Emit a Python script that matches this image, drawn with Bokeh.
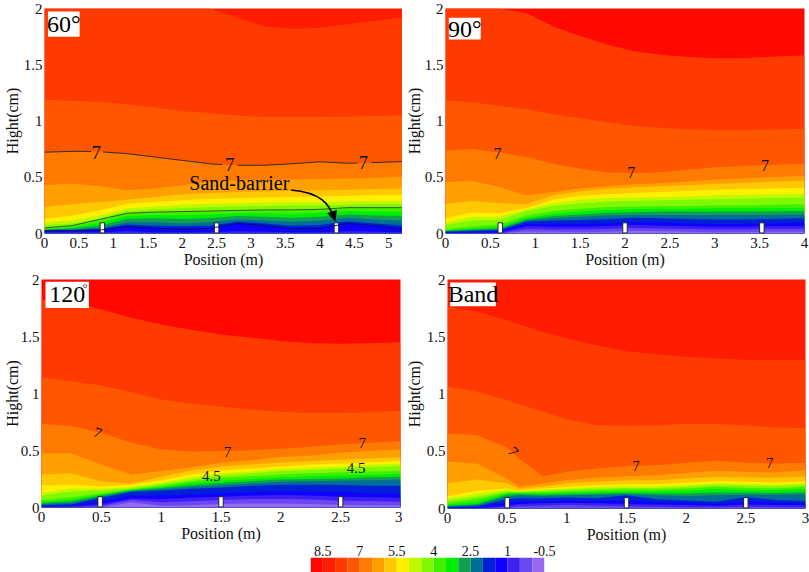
from bokeh.plotting import figure
from bokeh.layouts import column, row
from bokeh.models import Range1d, FixedTicker, Arrow, NormalHead
from bokeh.core.properties import value
from bokeh.embed import file_html
from bokeh.resources import INLINE

nan = float("nan")
FONT = "Liberation Serif"

# colour legend (one cell per 0.5 step)
LEVEL_TOP = [9, 8.5, 8, 7.5, 7, 6.5, 6, 5.5, 5, 4.5, 4, 3.5, 3, 2.5, 2, 1.5, 1, 0.5, 0]
LEVEL_BOTTOM = [8.5, 8, 7.5, 7, 6.5, 6, 5.5, 5, 4.5, 4, 3.5, 3, 2.5, 2, 1.5, 1, 0.5, 0, -0.5]
LEVEL_COLORS = ["#ff0800", "#ff1c00", "#ff3a00", "#ff5600", "#ff7a00", "#ffa000", "#ffc800", "#fff000",
                "#c0f800", "#80f800", "#40f000", "#00ee00", "#10a050", "#006e96", "#0020d8", "#1000ff",
                "#4020f0", "#6848f0", "#9868f0"]
LEGEND_TICKS = [8.5, 7, 5.5, 4, 2.5, 1, -0.5]

# --- 60 degrees
a_x = [0, .4, .8, 1.2, 1.6, 2, 2.4, 2.8, 3.2, 3.6, 4, 4.4, 4.8, 5.2]
a01 = [2, 2, 2, 2, 2, 2, 2, 1.92, 1.84, 1.82, 1.83, 1.86, 1.89, 1.92]
a02 = [1.19, 1.18, 1.17, 1.15, 1.12, 1.09, 1.07, 1.05, 1.035, 1.035, 1.035, 1.04, 1.045, 1.05]
a03 = [.723, .73, .73, .71, .68, .65, .62, .607, .607, .62, .637, .625, .63, .64]
a04 = [.43, .445, .42, .385, .40, .43, .46, .47, .475, .48, .485, .49, .495, .505]
a05 = [.235, .26, .28, .30, .325, .35, .36, .37, .375, .38, .385, .39, .395, .40]
a06 = [.13, .16, .205, .265, .28, .295, .31, .315, .32, .325, .33, .335, .34, .345]
a07 = [.10, .115, .16, .225, .24, .255, .265, .27, .275, .28, .28, .285, .29, .29]
a08 = [.075, .09, .135, .20, .215, .225, .235, .24, .245, .25, .25, .255, .26, .26]
a09 = [.05, .07, .125, .18, .19, .195, .20, .205, .21, .21, .215, .23, .23, .23]
a10 = [.04, .055, .095, .155, .165, .165, .17, .18, .18, .175, .185, .20, .195, .195]
a11 = [.035, .045, .07, .13, .135, .13, .135, .155, .15, .14, .15, .17, .16, .155]
a12 = [.03, .035, .05, .10, .10, .09, .10, .125, .115, .105, .115, .14, .125, .115]
a13 = [.027, .03, .04, .08, .07, .065, .07, .105, .09, .07, .075, .11, .09, .07]
a14 = [.025, .027, .03, .062, .045, .04, .045, .09, .07, .045, .045, .09, .07, .04]
a15 = [.012, .012, .012, .02, .012, .012, .012, .02, .015, .012, .012, .02, .015, .012]
a_line_x = [0, .4, .68, nan, .85, 1.2, 1.6, 2, 2.4, 2.58, nan, 2.8, 3.2, 3.6, 4, 4.4, 4.55, nan, 4.75, 5.2]
a_line_y = [.723, .73, .73, nan, .725, .71, .68, .65, .62, .612, nan, .607, .607, .62, .637, .625, .626, nan, .63, .64]
a_barriers = [.84, 2.5, 4.24]

# --- 90 degrees
b_x = [0, .3, .6, .9, 1.2, 1.5, 1.8, 2.1, 2.4, 2.7, 3, 3.3, 3.6, 4]
b01 = [2, 2, 2, 1.96, 1.84, 1.755, 1.68, 1.62, 1.59, 1.57, 1.557, 1.557, 1.57, 1.585]
b02 = [1.185, 1.165, 1.135, 1.105, 1.06, 1.025, .988, .955, .938, .926, .92, .92, .923, .932]
b03 = [.737, .752, .72, .68, .62, .575, .545, .537, .545, .566, .59, .60, .61, .62]
b04 = [.457, .466, .413, .34, .37, .40, .42, .437, .45, .463, .48, .49, .50, .513]
b05 = [.265, .29, .27, .26, .34, .375, .395, .41, .42, .43, .44, .45, .46, .47]
b06 = [.135, .19, .18, .225, .30, .335, .35, .36, .37, .38, .39, .395, .40, .405]
b07 = [.10, .15, .15, .215, .27, .30, .315, .32, .325, .33, .34, .345, .35, .355]
b08 = [.075, .115, .12, .20, .245, .27, .285, .29, .295, .30, .305, .31, .315, .32]
b09 = [.04, .065, .08, .16, .20, .22, .235, .24, .245, .245, .25, .25, .255, .26]
b10 = [.03, .045, .06, .14, .175, .195, .21, .215, .22, .22, .225, .225, .225, .23]
b11 = [.025, .035, .045, .125, .155, .17, .185, .19, .195, .195, .195, .195, .195, .20]
b12 = [.02, .028, .035, .115, .135, .15, .16, .165, .165, .165, .165, .165, .165, .17]
b13 = [.015, .022, .03, .105, .115, .12, .13, .14, .135, .13, .125, .125, .13, .135]
b14 = [.012, .015, .02, .085, .085, .085, .09, .10, .095, .09, .085, .085, .09, .095]
b15 = [.006, .007, .008, .065, .06, .06, .065, .075, .07, .065, .06, .06, .065, .065]
b16 = [0, 0, 0, .04, .035, .035, .04, .05, .045, .04, .035, .035, .04, .04]
b17 = [0, 0, 0, .018, .015, .012, .015, .025, .02, .015, .012, .012, .015, .015]
b_barriers = [.61, 2.0, 3.525]

# --- 120 degrees
c_x = [0, .25, .5, .75, 1, 1.25, 1.5, 1.75, 2, 2.25, 2.5, 2.75, 3]
c01 = [1.82, 1.81, 1.737, 1.665, 1.605, 1.56, 1.518, 1.49, 1.46, 1.44, 1.436, 1.44, 1.45]
c02 = [1.143, 1.108, 1.07, 1.01, .947, .912, .883, .86, .84, .83, .83, .836, .848]
c03 = [.734, .713, .655, .567, .51, .488, .494, .503, .515, .532, .553, .567, .582]
c04 = [.474, .474, .377, .29, .32, .354, .392, .415, .444, .456, .48, .497, .509]
c05 = [.29, .30, .228, .21, .27, .325, .36, .377, .395, .405, .42, .43, .44]
c06 = [.193, .20, .184, .20, .237, .29, .325, .342, .36, .377, .386, .395, .41]
c07 = [.13, .167, .165, .18, .22, .263, .30, .315, .34, .35, .36, .375, .385]
c08 = [.105, .14, .15, .17, .205, .245, .28, .30, .32, .33, .34, .355, .365]
c09 = [.065, .09, .125, .16, .19, .23, .26, .275, .29, .30, .31, .315, .32]
c10 = [.05, .07, .115, .155, .18, .215, .235, .25, .265, .275, .28, .285, .295]
c11 = [.04, .055, .105, .15, .17, .195, .215, .23, .245, .25, .255, .265, .27]
c12 = [.03, .04, .095, .145, .16, .18, .195, .21, .225, .23, .235, .24, .245]
c13 = [.02, .028, .085, .135, .15, .165, .175, .19, .20, .20, .197, .19, .19]
c14 = [.012, .018, .055, .10, .105, .115, .125, .135, .14, .14, .135, .125, .125]
c15 = [.006, .01, .03, .08, .075, .085, .095, .105, .11, .105, .095, .09, .085]
c16 = [0, 0, .015, .065, .045, .055, .065, .075, .075, .07, .06, .055, .05]
c17 = [0, 0, 0, .045, .015, .02, .03, .035, .035, .03, .025, .02, .02]
c_barriers = [.49, 1.5, 2.5]

# --- Band
d_x = [0, .25, .5, .6, .8, 1, 1.25, 1.5, 1.75, 2, 2.25, 2.5, 2.75, 3]
d01 = [1.767, 1.718, 1.645, 1.61, 1.54, 1.485, 1.426, 1.374, 1.348, 1.325, 1.31, 1.30, 1.30, 1.30]
d02 = [1.063, 1.019, .946, .91, .844, .777, .728, .722, .728, .737, .737, .725, .707, .70]
d03 = [.655, .64, .53, .437, .282, .32, .35, .37, .378, .40, .416, .40, .393, .40]
d04 = [.41, .39, .26, .19, .22, .247, .27, .282, .29, .31, .33, .32, .315, .335]
d05 = [.22, .253, .22, .175, .195, .22, .233, .247, .247, .262, .277, .27, .268, .277]
d06 = [.108, .154, .175, .154, .175, .19, .204, .212, .212, .224, .239, .233, .227, .239]
d07 = [.09, .13, .165, .15, .165, .175, .19, .195, .195, .205, .22, .215, .21, .22]
d08 = [.07, .105, .15, .145, .155, .165, .175, .18, .18, .19, .205, .20, .195, .205]
d09 = [.05, .085, .14, .14, .145, .15, .16, .165, .165, .175, .19, .18, .175, .19]
d10 = [.035, .06, .13, .135, .13, .14, .145, .15, .15, .155, .17, .16, .16, .17]
d11 = [.025, .04, .12, .125, .12, .125, .13, .135, .13, .13, .14, .14, .135, .145]
d12 = [.02, .03, .105, .115, .11, .115, .12, .125, .115, .11, .115, .12, .12, .125]
d13 = [.012, .02, .08, .09, .09, .095, .09, .115, .08, .07, .06, .10, .075, .065]
d14 = [.008, .012, .05, .06, .065, .07, .065, .07, .055, .05, .04, .06, .05, .045]
d15 = [.004, .006, .025, .04, .045, .05, .045, .04, .035, .03, .025, .035, .03, .028]
d16 = [0, 0, .01, .02, .025, .03, .025, .02, .015, .012, .01, .015, .012, .012]
d_barriers = [.5, 1.5, 2.5]


def panel(x, edges, first, skip, xmax, xticks, barriers, fw, fh, left, right, top, bottom, lab_standoff):
    p = figure(frame_width=fw, frame_height=fh, output_backend="svg", toolbar_location=None,
               x_range=Range1d(0, xmax), y_range=Range1d(0, 2),
               min_border_left=left, min_border_right=right, min_border_top=top, min_border_bottom=bottom,
               x_axis_label="Position (m)", y_axis_label="Hight(cm)")
    p.outline_line_color = None
    p.grid.visible = False
    p.background_fill_color = LEVEL_COLORS[first]
    idx = first + 1 + skip
    for e in edges:
        p.varea(x, [0] * len(x), e, fill_color=LEVEL_COLORS[idx])
        idx += 1
    for ax, ticks in ((p.xaxis[0], xticks), (p.yaxis[0], [0, .5, 1, 1.5, 2])):
        ax.ticker = FixedTicker(ticks=ticks)
        ax.axis_line_color = None
        ax.major_tick_line_color = None
        ax.minor_tick_line_color = None
        ax.major_tick_out = 0
        ax.major_tick_in = 0
        ax.minor_tick_out = 0
        ax.minor_tick_in = 0
        ax.major_label_text_font = FONT
        ax.major_label_text_font_size = "15px"
        ax.major_label_text_color = "#111111"
        ax.axis_label_text_font = FONT
        ax.axis_label_text_font_size = "16px"
        ax.axis_label_text_font_style = "normal"
        ax.axis_label_text_color = "#111111"
    p.xaxis[0].major_label_standoff = 4
    p.xaxis[0].axis_label_standoff = 0
    p.yaxis[0].major_label_standoff = 2
    p.yaxis[0].axis_label_standoff = lab_standoff
    p.rect(barriers, [.05] * 3, width=4.5, height=.09, width_units="screen",
           fill_color="white", line_color="#222222", line_width=1)
    return p


def badge(p, x0, x1, y0, y1, text, size=22):
    p.quad(left=[x0], right=[x1], bottom=[y0], top=[y1], fill_color="white", line_color=None)
    p.text([(x0 + x1) / 2], [(y0 + y1) / 2], text=[text], text_font=value(FONT), text_font_size=f"{size}px",
           text_align="center", text_baseline="middle", text_color="black")


def sevens(p, xs, ys, size, angle=0, text="7"):
    p.text(xs, ys, text=[text] * len(xs), text_font=value(FONT), text_font_size=f"{size}px", angle=angle,
           text_align="center", text_baseline="middle", text_color="#111111")


p1 = panel(a_x, [a01, a02, a03, a04, a05, a06, a07, a08, a09, a10, a11, a12, a13, a14, a15], 1, 0, 5.2,
           [0, .5, 1, 1.5, 2, 2.5, 3, 3.5, 4, 4.5, 5], a_barriers, 358, 225, 44, 0, 8, 36, 0)
p1.line(a_line_x, a_line_y, line_color="#222222", line_width=.9)
p1.line(a_x, a09, line_color="#3a4a20", line_width=.9)
p1.line(a_x, a14, line_color="#001060", line_width=.9)
badge(p1, .05, .51, 1.75, 1.973, "60°", 24)
sevens(p1, [.75, 2.69, 4.63], [.72, .613, .628], 19)
p1.text([2.83], [.446], text=["Sand-barrier"], text_font=value(FONT), text_font_size="20px",
        text_align="center", text_baseline="middle", text_color="black")
p1.bezier(x0=[3.58], y0=[.387], x1=[4.2], y1=[.14], cx0=[4.01], cy0=[.366], cx1=[4.14], cy1=[.26],
          line_color="black", line_width=1.6)
p1.add_layout(Arrow(end=NormalHead(size=9, fill_color="black", line_color="black"), line_width=1.5,
                    x_start=4.19, y_start=.17, x_end=4.22, y_end=.115))

p2 = panel(b_x, [b01, b02, b03, b04, b05, b06, b07, b08, b09, b10, b11, b12, b13, b14, b15, b16, b17], 0, 1, 4,
           [0, .5, 1, 1.5, 2, 2.5, 3, 3.5, 4], b_barriers, 359, 225, 43, 5, 8, 36, -1)
badge(p2, .037, .393, 1.725, 1.917, "90°", 24)
sevens(p2, [.58, 2.07, 3.56], [.714, .543, .605], 16)

p3 = panel(c_x, [c01, c02, c03, c04, c05, c06, c07, c08, c09, c10, c11, c12, c13, c14, c15, c16, c17], 0, 1, 3,
           [0, .5, 1, 1.5, 2, 2.5, 3], c_barriers, 359, 228, 41, 2, 9, 36, -3)
badge(p3, .033, .396, 1.75, 1.98, "120", 24)
p3.text([.365], [1.93], text=["°"], text_font=value(FONT), text_font_size="13px",
        text_align="center", text_baseline="middle", text_color="#333333")
sevens(p3, [.47], [.655], 15, -.4)
sevens(p3, [1.555, 2.68], [.49, .567], 15)
sevens(p3, [1.42, 2.63], [.28, .348], 15, 0, "4.5")

p4 = panel(d_x, [d01, d02, d03, d04, d05, d06, d07, d08, d09, d10, d11, d12, d13, d14, d15, d16], 1, 0, 3,
           [0, .5, 1, 1.5, 2, 2.5, 3], d_barriers, 358, 229, 45, 4, 9, 36, 1)
badge(p4, .022, .405, 1.767, 1.974, "Band", 24)
sevens(p4, [1.58, 2.70], [.373, .40], 15)
sevens(p4, [.55], [.495], 15, -.85)

legend = figure(frame_width=234, frame_height=15, output_backend="svg", toolbar_location=None,
                x_range=Range1d(9, -0.5), y_range=Range1d(0, 1),
                x_axis_location="above", y_axis_location=None,
                min_border_left=310, min_border_right=265, min_border_top=22, min_border_bottom=2,
                margin=(-10, 0, 0, 0))
legend.outline_line_color = None
legend.border_fill_color = None
legend.grid.visible = False
legend.quad(left=LEVEL_TOP, right=LEVEL_BOTTOM, bottom=[0] * 19, top=[1] * 19,
            fill_color=LEVEL_COLORS, line_color=None)
ax = legend.xaxis[0]
ax.ticker = FixedTicker(ticks=LEGEND_TICKS)
ax.major_label_overrides = {-0.5: "-0.5"}
ax.axis_line_color = None
ax.major_tick_line_color = None
ax.minor_tick_line_color = None
ax.major_tick_out = 0
ax.major_tick_in = 0
ax.minor_tick_out = 0
ax.minor_tick_in = 0
ax.major_label_text_font = FONT
ax.major_label_text_font_size = "14px"
ax.major_label_text_color = "#111111"
ax.major_label_standoff = 2

page = column(row(p1, p2), row(p3, p4), legend, margin=(0, 0, 0, 0))
open("out.html", "w").write(file_html(page, INLINE))
